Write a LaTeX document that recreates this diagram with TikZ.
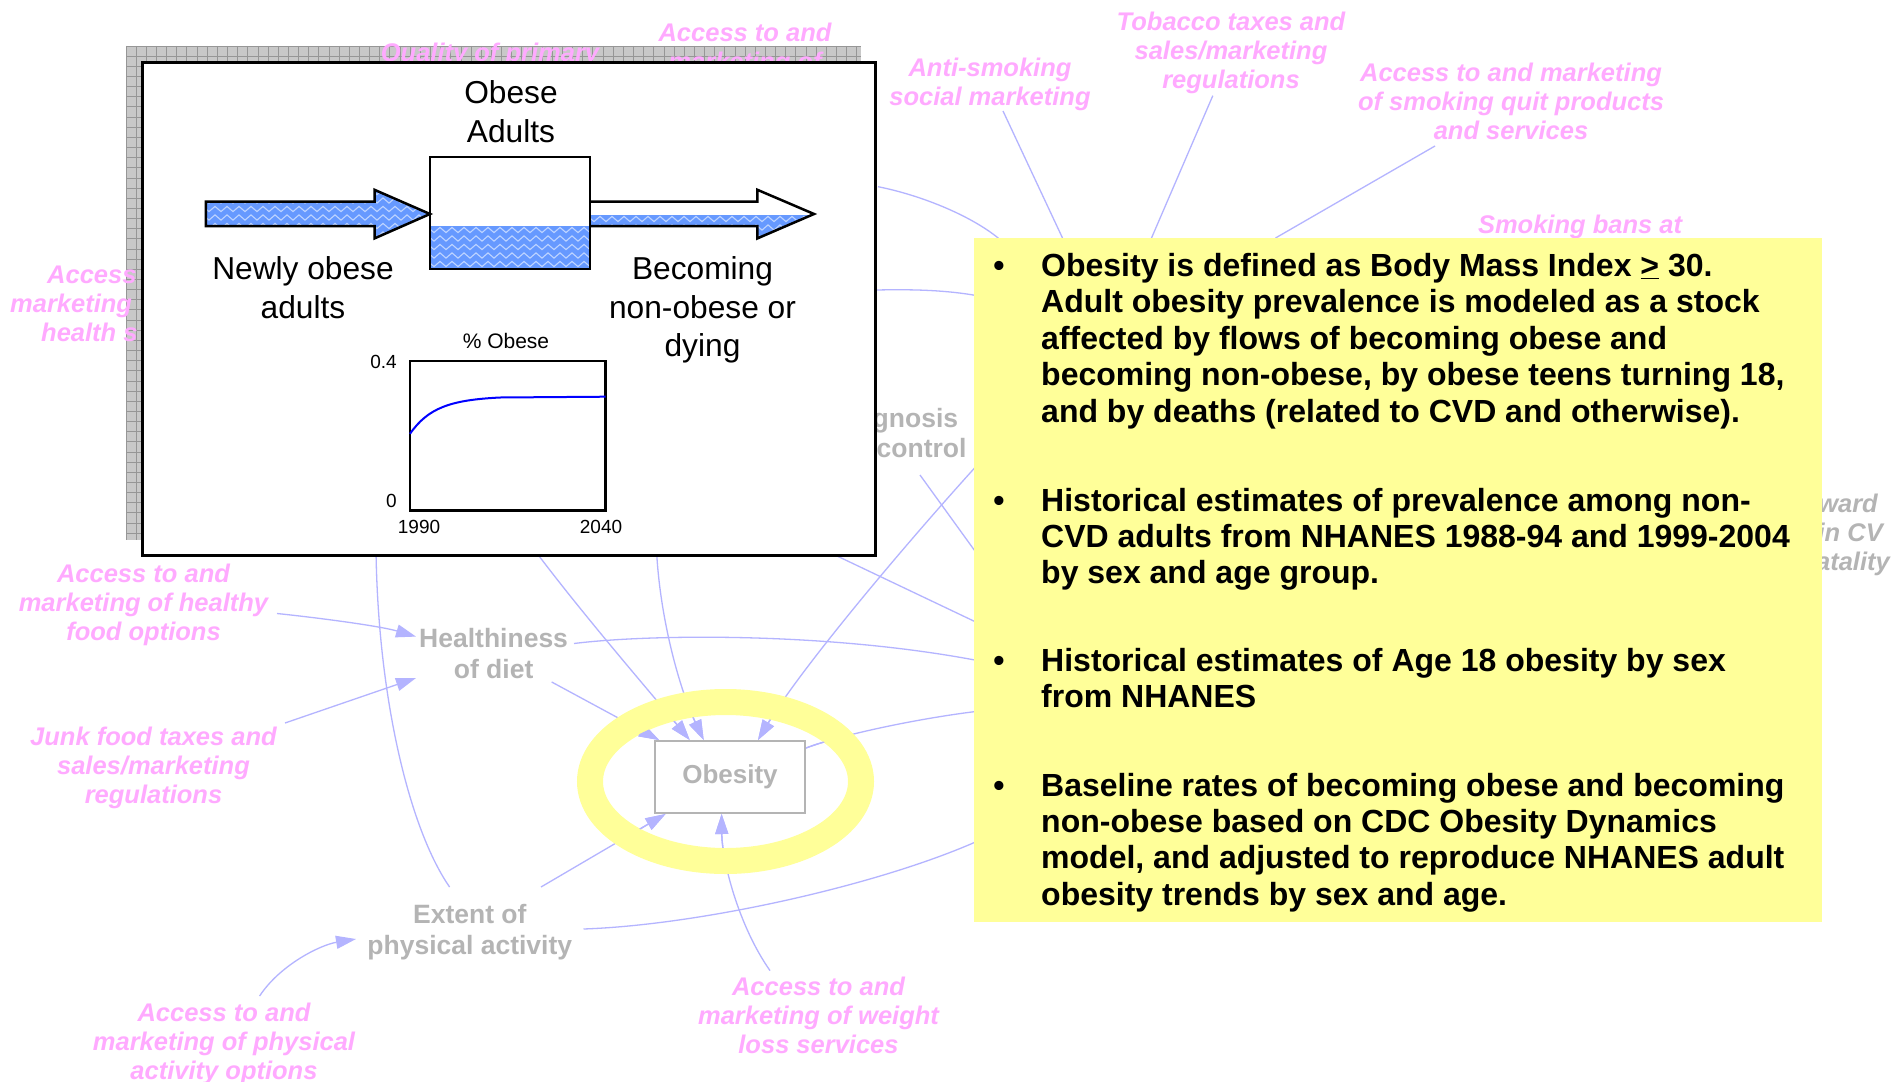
\documentclass[tikz,border=0pt]{standalone}
\usepackage{fontspec}
\setmainfont{Liberation Sans}
\usetikzlibrary{arrows.meta,decorations.pathmorphing}

\definecolor{linkblue}{RGB}{180,180,255}
\definecolor{pinktxt}{RGB}{255,170,255}
\definecolor{greytxt}{RGB}{180,180,180}
\definecolor{noteyellow}{RGB}{255,255,153}
\definecolor{gridfill}{RGB}{200,200,200}
\definecolor{gridline}{RGB}{150,150,150}
\definecolor{water}{RGB}{102,153,255}
\definecolor{wave}{RGB}{190,212,255}
\definecolor{curveblue}{RGB}{0,0,255}

% multi-line label whose baseline is that of its first line
\newcommand{\centerlines}[1]{\begin{tabular}[t]{@{}c@{}}#1\end{tabular}}
\newcommand{\leftlines}[1]{\begin{tabular}[t]{@{}l@{}}#1\end{tabular}}

% links that run into the Obesity box (drawn twice: under and inside the ring)
\newcommand{\ringlinks}{%
  \draw[infl] (diet-out) -- ([xshift=5pt]ob.north west);
  \draw[infl] (hid-a) .. controls (585,617) and (650,692) .. ([xshift=35.7pt]ob.north west);
  \draw[infl] (hid-b) .. controls (660,620) and (680,690) .. ([xshift=49.7pt]ob.north west);
  \draw[infl] (hid-c) .. controls (900,550) and (800,670) .. ([xshift=104pt]ob.north west);
  \draw[infl] (pa-out) -- ([xshift=11.5pt]ob.south west);
  \draw[infl] (weight-out) .. controls (738,925) and (722,860) .. ([xshift=67.6pt]ob.south west);
  \draw[link] ([yshift=-8pt]ob.north east) .. controls (840,735) and (920,718) .. (note-l);
}

\begin{document}
\begin{tikzpicture}[x=1pt,y=-1pt,
  pinklab/.style={text=pinktxt, font=\fontsize{25.5}{29}\selectfont\bfseries\itshape, inner sep=0pt, anchor=base},
  greyital/.style={text=greytxt, font=\fontsize{25.5}{29}\selectfont\bfseries\itshape, inner sep=0pt, anchor=base east},
  greylab/.style={text=greytxt, font=\fontsize{26.5}{31}\selectfont\bfseries, inner sep=0pt, anchor=base},
  link/.style={draw=linkblue, line width=1.3pt},
  infl/.style={link, -{Triangle[length=20pt,width=13pt]}},
  plain/.style={text=black, font=\fontsize{31.7}{38.6}\selectfont, inner sep=0pt, anchor=base},
  axislab/.style={text=black, font=\fontsize{19}{22}\selectfont, inner sep=0pt, anchor=base},
  note/.style={text=black, font=\fontsize{32}{36.4}\selectfont\bfseries, inner sep=0pt, anchor=base west},
  dot/.style={text=black, font=\fontsize{32}{36.4}\selectfont\bfseries, inner sep=0pt, anchor=base},
  waves/.style={draw=wave, line width=1.1pt, decorate, decoration={zigzag, segment length=12pt, amplitude=2.6pt}},
  obbox/.style={draw=greytxt, line width=2pt, fill=white, text=greytxt, font=\fontsize{26}{30}\selectfont\bfseries,
    minimum width=150pt, minimum height=72pt, inner sep=0pt},
]
\useasboundingbox (0,0) rectangle (1894,1081);
\fill[white] (0,0) rectangle (1894,1081);

% ---------- hatched panel behind the stock-and-flow window ----------
\fill[gridfill] (126,46) rectangle (861,540);
\begin{scope}
  \clip (126,46) rectangle (861,540);
  \foreach \gx in {0,...,73} \draw[gridline, line width=0.9pt] ({126+10.15*\gx},46) -- ++(0,494);
  \foreach \gy in {0,...,49} \draw[gridline, line width=0.9pt] (126,{46+10.15*\gy}) -- ++(735,0);
\end{scope}

% ---------- causal map ----------
\node[obbox] (ob) at (730,777) {Obesity};

\coordinate (food-out) at (277,613.5);
\coordinate (junk-out) at (285,723);
\coordinate (diet-in1) at (416,636.6);
\coordinate (diet-in2) at (416,678);
\coordinate (diet-out) at (551.7,682);
\coordinate (diet-r) at (574,643.5);
\coordinate (paopt-out) at (259.6,996);
\coordinate (pa-in) at (356,939);
\coordinate (pa-out) at (541,887);
\coordinate (pa-up) at (449.6,887);
\coordinate (pa-r) at (583.5,929);
\coordinate (weight-out) at (770,970.6);
\coordinate (hid-a) at (536,552);
\coordinate (hid-b) at (656.5,550);
\coordinate (hid-c) at (980,462);
\coordinate (hid-d) at (376,550);
\coordinate (hid-e) at (835,555);
\coordinate (gn-out) at (920,475);
\coordinate (win-r1) at (878,186.7);
\coordinate (win-r2) at (877,290);
\coordinate (anti-out) at (1003,111);
\coordinate (tob-out) at (1212.8,95.7);
\coordinate (quit-out) at (1435,146);
\coordinate (note-a) at (1062.5,238);
\coordinate (note-b) at (1151.5,238);
\coordinate (note-c) at (1275.5,238);
\coordinate (note-d) at (998.5,238.3);
\coordinate (note-e) at (975,295.3);
\coordinate (note-f) at (980,558);
\coordinate (note-g) at (980,624);
\coordinate (note-h) at (980,661);
\coordinate (note-l) at (980,711);
\coordinate (note-m) at (980,840);

\draw[infl] (food-out) .. controls (320,618) and (380,626) .. (diet-in1);
\draw[infl] (junk-out) -- (diet-in2);
\draw[infl] (paopt-out) .. controls (280,965) and (320,945) .. (pa-in);
\draw[link] (pa-up) .. controls (410,830) and (378,700) .. (hid-d);
\draw[link] (diet-r) .. controls (650,634) and (830,632) .. (note-h);
\draw[link] (pa-r) .. controls (700,925) and (880,885) .. (note-m);
\draw[link] (gn-out) -- (note-f);
\draw[link] (hid-e) -- (note-g);
\draw[link] (win-r1) .. controls (920,195) and (970,215) .. (note-d);
\draw[link] (win-r2) .. controls (920,289) and (950,291) .. (note-e);
\draw[link] (anti-out) -- (note-a);
\draw[link] (tob-out) -- (note-b);
\draw[link] (quit-out) -- (note-c);
\ringlinks

% highlight ring round the Obesity stock
\draw[noteyellow, line width=26pt] (725.5,781.5) ellipse [x radius=135.5pt, y radius=79.5pt];
\begin{scope}
  \clip (725.5,781.5) ellipse [x radius=122.5pt, y radius=66.5pt];
  \ringlinks
\end{scope}
\node[obbox] at (ob) {Obesity};

% policy levers and intermediate variables
\node[pinklab] (quality) at (490,61) {Quality of primary};
\node[pinklab] (access-top) at (745,41.5) {\centerlines{Access to and\\marketing of}};
\node[pinklab] (anti) at (990,76) {\centerlines{Anti-smoking\\social marketing}};
\node[pinklab] (tobacco) at (1231,30.5) {\centerlines{Tobacco taxes and\\sales/marketing\\regulations}};
\node[pinklab] (quit) at (1511,81.5) {\centerlines{Access to and marketing\\of smoking quit products\\and services}};
\node[pinklab] (bans) at (1580,233.5) {Smoking bans at};
\node[pinklab, anchor=base west] (hs1) at (47,283) {Access};
\node[pinklab, anchor=base west] (hs2) at (10,312) {marketing};
\node[pinklab, anchor=base west] (hs3) at (41,341) {health s};
\node[pinklab] (food) at (143.5,582.5) {\centerlines{Access to and\\marketing of healthy\\food options}};
\node[pinklab] (junk) at (153.5,745.5) {\centerlines{Junk food taxes and\\sales/marketing\\regulations}};
\node[pinklab] (paopt) at (224,1021) {\centerlines{Access to and\\marketing of physical\\activity options}};
\node[pinklab] (weight) at (818.5,995) {\centerlines{Access to and\\marketing of weight\\loss services}};
\node[greylab] (diet) at (493.6,647) {\centerlines{Healthiness\\of diet}};
\node[greylab] (pa) at (469.8,923.5) {\centerlines{Extent of\\physical activity}};
\node[greylab, anchor=base east] (gn1) at (958.3,427) {gnosis};
\node[greylab, anchor=base east] (gn2) at (966.7,457.5) {control};
\node[greyital] (cv1) at (1878,512) {ward};
\node[greyital] (cv2) at (1883,541) {in CV};
\node[greyital] (cv3) at (1890,570) {atality};

% ---------- stock-and-flow window ----------
\draw[black, line width=2.7pt, fill=white] (142.3,62.3) rectangle (875.3,555.7);

\node[plain] (stocklab) at (511,103.5) {\centerlines{Obese\\Adults}};

% inflow pipe
\begin{scope}
  \clip (205.8,201.6) -- (374.5,201.6) -- (374.5,189.8) -- (430,214) -- (374.5,238.4) -- (374.5,226) -- (205.8,226) -- cycle;
  \fill[water] (200,185) rectangle (435,242);
  \foreach \wy in {192,200.5,...,240} \draw[waves] (200,\wy) -- (440,\wy);
\end{scope}
\draw[line width=2.5pt, line join=miter] (205.8,201.6) -- (374.5,201.6) -- (374.5,189.8) -- (430,214) -- (374.5,238.4) -- (374.5,226) -- (205.8,226) -- cycle;

% outflow pipe, half full
\fill[white] (590,201.6) -- (757.4,201.6) -- (757.4,189.8) -- (814,214) -- (757.4,238.4) -- (757.4,226) -- (590,226) -- cycle;
\begin{scope}
  \clip (590,201.6) -- (757.4,201.6) -- (757.4,189.8) -- (814,214) -- (757.4,238.4) -- (757.4,226) -- (590,226) -- cycle;
  \fill[water] (585,215) rectangle (820,242);
  \foreach \wy in {219,227.5,...,240} \draw[waves] (585,\wy) -- (825,\wy);
\end{scope}
\draw[line width=2.5pt, line join=miter] (590,201.6) -- (757.4,201.6) -- (757.4,189.8) -- (814,214) -- (757.4,238.4) -- (757.4,226) -- (590,226);

% stock tank
\begin{scope}
  \clip (430,226) rectangle (590,269);
  \fill[water] (425,220) rectangle (595,275);
  \foreach \wy in {230,238.5,...,272} \draw[waves] (425,\wy) -- (600,\wy);
\end{scope}
\draw[line width=2.5pt] (430,157) rectangle (590,269);

\node[plain] (inflow) at (303,279.5) {\centerlines{Newly obese\\adults}};
\node[plain] (outflow) at (702.5,279.5) {\centerlines{Becoming\\non-obese or\\dying}};

% small trend graph
\node[axislab, font=\fontsize{21}{24}\selectfont] (gtitle) at (506,348.5) {\% Obese};
\draw[line width=2.2pt] (410,361) rectangle (605.5,510.5);
\node[axislab, anchor=base east] (ytop) at (397,368.5) {0.4};
\node[axislab, anchor=base east] (ybot) at (397,507) {0};
\node[axislab] (xl) at (419,533.7) {1990};
\node[axislab] (xr) at (601,533.7) {2040};
\draw[curveblue, line width=2pt] (410,433.8) .. controls (428,408) and (450,400) .. (500,397.5) -- (605.5,396.7);

% ---------- notes panel ----------
\fill[noteyellow] (974,238) rectangle (1821.7,922);
\node[dot] (d1) at (999,276.4) {•};
\node[dot] (d2) at (999,511) {•};
\node[dot] (d3) at (999,671.4) {•};
\node[dot] (d4) at (999,796) {•};
\node[note] (n1) at (1041,276.4) {\leftlines{Obesity is defined as Body Mass Index \underline{>} 30.\\Adult obesity prevalence is modeled as a stock\\affected by flows of becoming obese and\\becoming non-obese, by obese teens turning 18,\\and by deaths (related to CVD and otherwise).}};
\node[note] (n2) at (1041,511) {\leftlines{Historical estimates of prevalence among non-\\CVD adults from NHANES 1988-94 and 1999-2004\\by sex and age group.}};
\node[note] (n3) at (1041,671.4) {\leftlines{Historical estimates of Age 18 obesity by sex\\from NHANES}};
\node[note] (n4) at (1041,796) {\leftlines{Baseline rates of becoming obese and becoming\\non-obese based on CDC Obesity Dynamics\\model, and adjusted to reproduce NHANES adult\\obesity trends by sex and age.}};
\end{tikzpicture}
\end{document}
